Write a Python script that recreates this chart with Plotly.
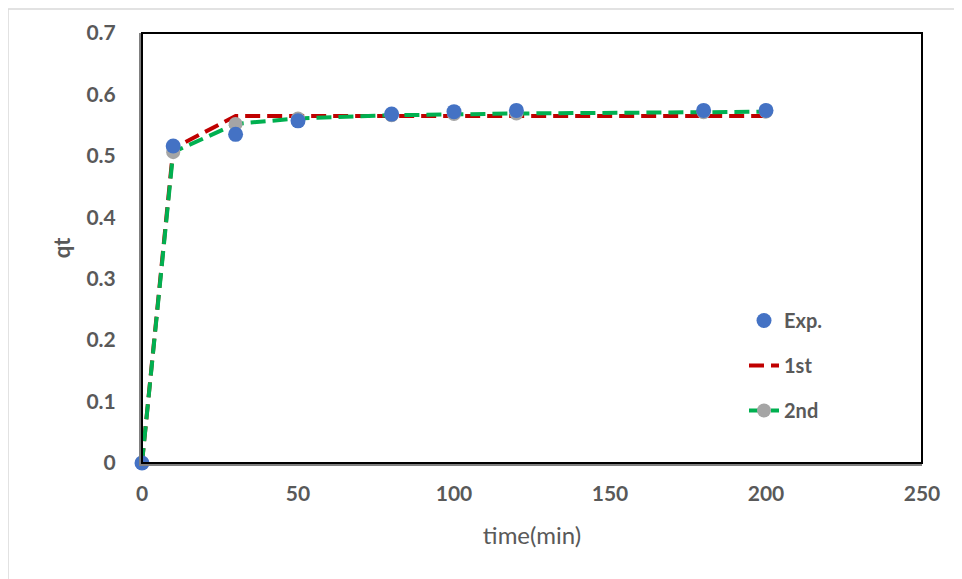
import plotly.graph_objects as go

time_exp = [0, 10, 30, 50, 80, 100, 120, 180, 200]
qt_exp = [0, 0.516, 0.535, 0.557, 0.568, 0.572, 0.574, 0.574, 0.574]
qt_first = [0, 0.512, 0.565, 0.565, 0.565, 0.565, 0.565, 0.565, 0.565]
qt_second = [0, 0.506, 0.552, 0.561, 0.566, 0.568, 0.569, 0.571, 0.572]

x_ticks = [0, 50, 100, 150, 200, 250]
y_ticks = [0, 0.1, 0.2, 0.3, 0.4, 0.5, 0.6, 0.7]

FONT = "Lato"
GRAY = "#595959"

fig = go.Figure()
fig.add_trace(go.Scatter(
    x=time_exp, y=qt_first, name="1st", mode="lines", legendgroup="b",
    line=dict(color="#C00000", width=4, dash="15px,7px"),
    legendrank=2, cliponaxis=False))
fig.add_trace(go.Scatter(
    x=time_exp, y=qt_second, name="2nd", mode="lines+markers", legendgroup="c",
    line=dict(color="#00B050", width=4, dash="15px,7px"),
    marker=dict(color="#A5A5A5", size=14),
    legendrank=3, cliponaxis=False))
fig.add_trace(go.Scatter(
    x=time_exp, y=qt_exp, name="Exp.", mode="markers", legendgroup="a",
    marker=dict(color="#4472C4", size=15),
    legendrank=1, cliponaxis=False))

fig.update_layout(
    width=954, height=571,
    margin=dict(l=134, r=40, t=25, b=116),
    paper_bgcolor="white", plot_bgcolor="white",
    font=dict(family=FONT, color=GRAY, size=16),
    showlegend=True,
    legend=dict(x=(744 - 142) / 780, y=(463 - 301) / 430, xanchor="left", yanchor="top",
                bgcolor="rgba(0,0,0,0)",
                font=dict(family=FONT, size=20, color=GRAY, weight="bold"),
                tracegroupgap=16, itemwidth=30),
    xaxis=dict(range=[0, 250], tickvals=x_ticks, showgrid=False, zeroline=False,
               showline=True, linecolor="#808080", linewidth=3,
               ticks="", ticklabelstandoff=10,
               tickfont=dict(family=FONT, size=21, color=GRAY, weight="bold"),
               title=dict(text="time(min)", font=dict(family=FONT, size=24, color=GRAY), standoff=23)),
    yaxis=dict(range=[0, 0.7], tickvals=y_ticks, showgrid=False, zeroline=False,
               showline=True, linecolor="#808080", linewidth=3,
               ticks="", ticklabelstandoff=19,
               tickfont=dict(family=FONT, size=21, color=GRAY, weight="bold"),
               title=dict(text="qt", font=dict(family=FONT, size=22, color=GRAY, weight="bold"), standoff=10)),
    shapes=[
        dict(type="rect", xref="paper", yref="paper", x0=0, x1=1, y0=0, y1=1,
             line=dict(color="black", width=2), layer="above"),
        dict(type="line", xref="paper", yref="paper",
             x0=(8 - 142) / 780, x1=(8 - 142) / 780,
             y0=(463 - 579) / 430, y1=(463 - 9) / 430,
             line=dict(color="#D9D9D9", width=1.5), layer="below"),
        dict(type="line", xref="paper", yref="paper",
             x0=(8 - 142) / 780, x1=(962 - 142) / 780,
             y0=(463 - 9) / 430, y1=(463 - 9) / 430,
             line=dict(color="#D9D9D9", width=1.5), layer="below"),
    ],
)

fig.write_html("out.html")
